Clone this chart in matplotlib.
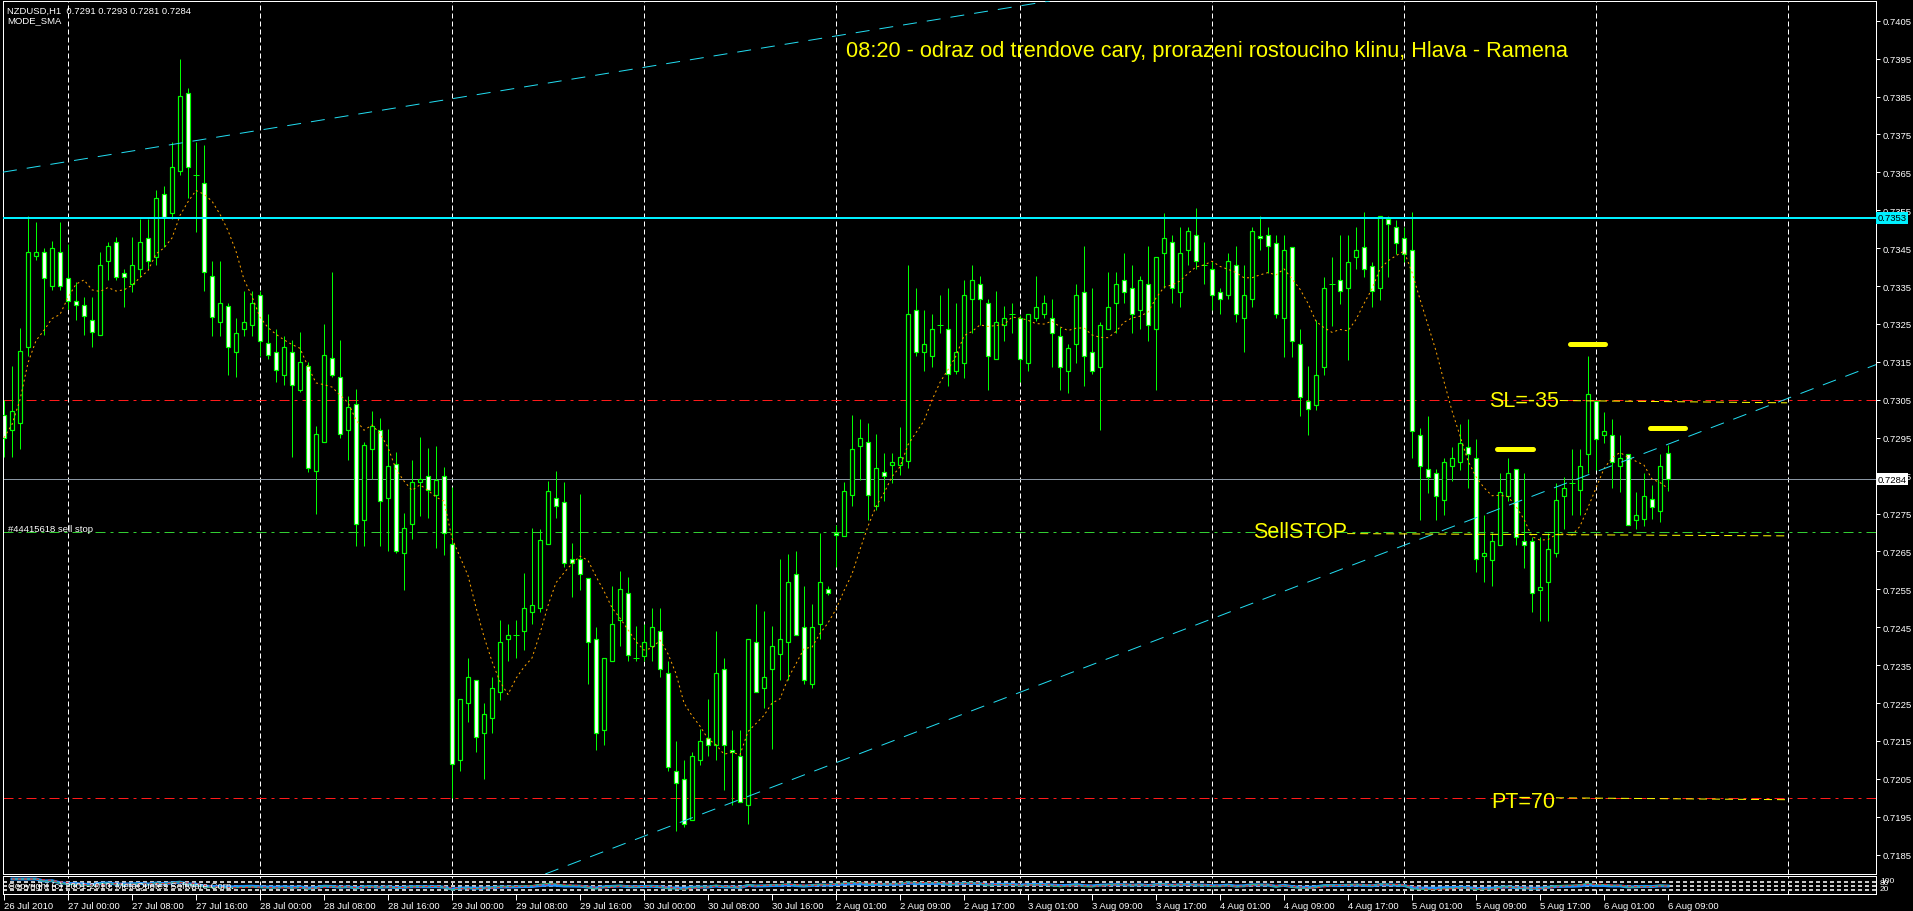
import numpy as np
import pandas as pd
import matplotlib
matplotlib.use("Agg")
import matplotlib.pyplot as plt
from matplotlib.transforms import blended_transform_factory

plt.rcParams['font.family'] = ['Liberation Sans', 'DejaVu Sans']
plt.rcParams['lines.scale_dashes'] = False

# ---------------- data (prices in pips: price * 10000) ----------------
OPEN = [7301, 7297, 7299, 7319, 7343, 7344, 7335, 7344, 7337, 7331,
        7330, 7326, 7322, 7341.5, 7346.5, 7338.5, 7335.5, 7339.5, 7347.6, 7342.6,
        7359.3, 7354.3, 7365.3, 7386, 7364.3, 7362.3, 7337.6, 7325.6, 7329.8, 7317.7,
        7323.8, 7324.7, 7332.6, 7319.9, 7317.7, 7311.6, 7317.7, 7307.7, 7314, 7286.1,
        7293.9, 7316, 7311, 7297.1, 7303.9, 7273.4, 7292, 7297.1, 7279, 7288,
        7264.5, 7272.2, 7283.2, 7285, 7279.9, 7284.9, 7266.9, 7209.9, 7225, 7231,
        7217.1, 7221.1, 7228, 7241.9, 7242.9, 7244.1, 7249.1, 7250.1, 7266.9, 7279,
        7278.1, 7262.9, 7263, 7258, 7241.9, 7217.8, 7236, 7246.9, 7254, 7237,
        7237.5, 7240, 7244, 7232.9, 7207.1, 7205, 7194.1, 7209.9, 7215.9, 7213.9,
        7234, 7212.7, 7211, 7198, 7241.1, 7229, 7234, 7238, 7241, 7259,
        7245, 7229.9, 7245.9, 7255.1, 7269.9, 7269.1, 7280, 7292.9, 7293.8, 7277.1,
        7285.9, 7287.8, 7287.8, 7288.9, 7328.7, 7317.6, 7316.5, 7324.7, 7323.7, 7312.6,
        7314.6, 7331.5, 7335.5, 7330.5, 7315.8, 7324.7, 7327.6, 7326.6, 7314.6, 7326.6,
        7327.6, 7326.6, 7321.7, 7312.6, 7319.6, 7333.5, 7317.6, 7313.7, 7323.7, 7330.5,
        7336.5, 7334.5, 7328.7, 7335.5, 7323.7, 7343.6, 7346.5, 7333.5, 7344.5, 7348.5,
        7340.6, 7339.4, 7333.5, 7332.6, 7340.6, 7326.6, 7331.7, 7348.2, 7348.5, 7346.4,
        7326.5, 7345.4, 7319.7, 7304.6, 7303.7, 7313.6, 7335.5, 7336.5, 7334.4, 7342.6,
        7345.4, 7340.4, 7334.4, 7352.6, 7350.5, 7347.6, 7344.5, 7295.6, 7286.8, 7285.7,
        7278.5, 7287.5, 7288.6, 7292.6, 7289.7, 7263.8, 7262.7, 7266.7, 7279.6, 7286.8,
        7267.7, 7267.7, 7254.8, 7256.8, 7264.7, 7279.6, 7283.1, 7281.3, 7290.7, 7304.6,
        7295.6, 7295.6, 7287.6, 7290.7, 7273.4, 7273.6, 7278.7, 7275.6, 7291]

HIGH = [7305, 7314, 7324, 7353.5, 7352, 7345, 7347, 7352, 7346, 7336,
        7332, 7332, 7344, 7346.5, 7348, 7339.5, 7348, 7352.7, 7352.7, 7360.4,
        7361.4, 7373, 7395, 7387.2, 7373, 7372.2, 7341.5, 7341.5, 7330.6, 7326.6,
        7333.6, 7333.6, 7333.6, 7327.7, 7323.8, 7321.7, 7320.8, 7322.8, 7314.9, 7298.1,
        7324.9, 7338.7, 7320.8, 7306, 7307.9, 7293.9, 7302.1, 7300.2, 7297.2, 7291.1,
        7275.2, 7289, 7295.1, 7292.2, 7292.9, 7287.2, 7282.1, 7226, 7237, 7231,
        7224.9, 7232, 7246.9, 7245.9, 7246.9, 7259.2, 7271.2, 7271, 7283.7, 7286.1,
        7283.2, 7267.1, 7280.1, 7258, 7245, 7237, 7255.8, 7259.9, 7258.2, 7245.4,
        7245.9, 7250.1, 7250.1, 7236, 7215.1, 7210.1, 7212.2, 7218.1, 7226.1, 7244.1,
        7237, 7217.9, 7217.9, 7242, 7251, 7249.2, 7245.3, 7263.1, 7264.2, 7265,
        7256, 7251, 7269.9, 7255.8, 7271.9, 7283.2, 7301.1, 7300, 7298.8, 7296,
        7291, 7291, 7297.8, 7340.6, 7334.5, 7328.7, 7327.6, 7332.7, 7334.5, 7330.5,
        7336.6, 7340.6, 7337.6, 7331.5, 7333.6, 7329.8, 7330.5, 7327.3, 7327.6, 7337.6,
        7332.6, 7331.7, 7324.2, 7319.6, 7335.5, 7345.5, 7334.5, 7325.6, 7338.6, 7338.6,
        7343.6, 7340.6, 7337.6, 7345.5, 7342.6, 7354.4, 7348.5, 7350.6, 7350.6, 7355.5,
        7346.5, 7341.5, 7334.5, 7343.6, 7345.5, 7340.6, 7350.6, 7353.5, 7350.6, 7348.4,
        7348.4, 7345.4, 7323.6, 7313.8, 7326.1, 7337.5, 7342.6, 7348.4, 7348.4, 7350.5,
        7354.5, 7341.4, 7353.4, 7353.4, 7352.4, 7350.5, 7354.5, 7297.6, 7300.6, 7286.8,
        7289.7, 7292.6, 7298.7, 7299.8, 7294.7, 7274.5, 7269.9, 7285.7, 7289.7, 7286.8,
        7285.7, 7268.9, 7268.9, 7269.9, 7283.1, 7284.7, 7291.9, 7291.9, 7316.6, 7304.6,
        7301.9, 7299.8, 7295.6, 7290.7, 7280.6, 7285.7, 7282.6, 7290.7, 7293]

LOW = [7290, 7290, 7292, 7316.5, 7342, 7322, 7334, 7334, 7329, 7326,
       7322, 7319, 7322, 7336.5, 7336.5, 7329.5, 7333.5, 7337.5, 7339.5, 7340.6,
       7345.3, 7352.7, 7364.2, 7358.3, 7349.3, 7333.6, 7321.7, 7321.7, 7311.6, 7310.9,
       7321.7, 7321.7, 7316.5, 7315.8, 7309.8, 7308.8, 7290, 7307, 7286, 7275,
       7293.9, 7310.9, 7295, 7289.2, 7266.4, 7266.4, 7284.1, 7266.4, 7265.2, 7264.5,
       7254.7, 7268.2, 7274.3, 7273.8, 7265.9, 7264, 7200, 7207, 7220, 7212,
       7204.9, 7217.2, 7225.9, 7236, 7237, 7238.9, 7245.9, 7249, 7266.9, 7273.8,
       7261, 7252.9, 7254.9, 7229.9, 7212.7, 7213.9, 7236, 7240, 7236, 7236,
       7236, 7236, 7232, 7207.1, 7191.2, 7192.2, 7194.1, 7208.7, 7211, 7209.9,
       7202, 7198.1, 7199, 7193.1, 7228, 7223.8, 7212.9, 7231, 7231, 7242.9,
       7229.9, 7229, 7242, 7253.4, 7260.8, 7269.1, 7277, 7283.8, 7273.2, 7276,
       7278.2, 7283.1, 7285.2, 7287, 7316.5, 7312.6, 7313.7, 7322.6, 7308.6, 7311.7,
       7310.7, 7322.6, 7324.7, 7307.6, 7315.8, 7320.5, 7322.6, 7309.8, 7312.6, 7325.7,
       7326.6, 7313.7, 7307.6, 7306.7, 7314.6, 7308.6, 7311.7, 7296.9, 7323.7, 7322.6,
       7330.5, 7322.6, 7323.7, 7320.5, 7307.6, 7334.5, 7330.5, 7329.6, 7340.6, 7339.4,
       7335.5, 7328.7, 7327.6, 7331.7, 7325.6, 7317.6, 7329.6, 7344.6, 7338.5, 7326.5,
       7316.4, 7316.4, 7300.6, 7295.6, 7302.4, 7311.5, 7324.5, 7330.3, 7315.5, 7339.5,
       7337.5, 7329.6, 7331.3, 7337.5, 7343.4, 7341.4, 7289.7, 7273.4, 7280.5, 7273.4,
       7274.5, 7283.5, 7286.6, 7281.8, 7259.7, 7256.8, 7255.9, 7266.7, 7278.3, 7266.7,
       7260.7, 7248.9, 7246.7, 7246.7, 7263.6, 7270.8, 7274.5, 7274.5, 7285.7, 7286.6,
       7293.6, 7281.8, 7280.6, 7271.9, 7270.8, 7271.7, 7273.6, 7272.8, 7281]

CLOSE = [7295, 7302, 7318, 7344, 7344, 7337, 7345, 7335, 7331, 7330,
         7327, 7323, 7340.5, 7345.5, 7337.5, 7337.5, 7340.5, 7346.5, 7341.5, 7358.3,
         7353.2, 7366.4, 7385.2, 7366.3, 7364.3, 7338.7, 7326.8, 7330.6, 7318.8, 7322.7,
         7325.6, 7330.6, 7320.5, 7316.7, 7312.8, 7318.8, 7308.8, 7314.9, 7287.1, 7296,
         7316.8, 7311.6, 7296, 7303, 7272.2, 7293, 7298.1, 7278.3, 7287.4, 7265.2,
         7271.3, 7283.3, 7284, 7281.2, 7283.9, 7269.9, 7208.9, 7226, 7231.9, 7216.1,
         7222.1, 7229, 7241.1, 7242.9, 7242.9, 7250.1, 7250.9, 7268, 7281, 7277.1,
         7262, 7262, 7259, 7241, 7217.1, 7237, 7245.8, 7255.1, 7237.8, 7237,
         7241, 7245.1, 7234, 7208.1, 7204, 7193.1, 7211, 7215, 7214, 7232.9,
         7213.9, 7212, 7199, 7242, 7228, 7232, 7240.1, 7241.9, 7257, 7242.9,
         7231, 7245, 7257, 7254, 7269.2, 7281, 7292, 7294.9, 7280, 7287,
         7285, 7288.7, 7289.9, 7327.6, 7317.6, 7319.7, 7323.7, 7324.7, 7311.7, 7317.6,
         7332.6, 7336.5, 7331.5, 7316.5, 7325.6, 7326.6, 7327.6, 7315.8, 7327.6, 7329.6,
         7330.5, 7322.6, 7313.7, 7318.7, 7332.6, 7316.5, 7312.6, 7324.7, 7329.6, 7335.5,
         7333.5, 7327.6, 7336.5, 7324.7, 7342.6, 7347.6, 7334.5, 7343.6, 7349.4, 7341.5,
         7340.6, 7332.6, 7331.7, 7341.5, 7327.6, 7332.6, 7349.4, 7347.6, 7345.5, 7327.6,
         7344.5, 7320.5, 7305.7, 7302.6, 7311.5, 7334.4, 7335.5, 7333.7, 7341.4, 7344.5,
         7339.5, 7333.7, 7353.4, 7351.5, 7346.4, 7343.4, 7296.7, 7287.6, 7284.7, 7279.6,
         7288.6, 7289.7, 7293.6, 7290.7, 7262.9, 7264.7, 7267.7, 7280.6, 7285.7, 7268.9,
         7266.7, 7253.9, 7255.7, 7265.7, 7278.5, 7281.8, 7283.1, 7287.6, 7306.5, 7294.7,
         7296.7, 7288.6, 7289.7, 7271.9, 7274.5, 7279.6, 7276.8, 7287.6, 7284]

TICK_POS = list(range(0, 209, 8))
TICK_LABELS = ["26 Jul 2010", "27 Jul 00:00", "27 Jul 08:00", "27 Jul 16:00",
               "28 Jul 00:00", "28 Jul 08:00", "28 Jul 16:00", "29 Jul 00:00",
               "29 Jul 08:00", "29 Jul 16:00", "30 Jul 00:00", "30 Jul 08:00",
               "30 Jul 16:00", "2 Aug 01:00", "2 Aug 09:00", "2 Aug 17:00",
               "3 Aug 01:00", "3 Aug 09:00", "3 Aug 17:00", "4 Aug 01:00",
               "4 Aug 09:00", "4 Aug 17:00", "5 Aug 01:00", "5 Aug 09:00",
               "5 Aug 17:00", "6 Aug 01:00", "6 Aug 09:00"]
SEPARATORS = [8, 32, 56, 80, 104, 127, 151, 175, 199, 223]
PRICE_TICKS = [0.7185, 0.7195, 0.7205, 0.7215, 0.7225, 0.7235, 0.7245, 0.7255,
               0.7265, 0.7275, 0.7285, 0.7295, 0.7305, 0.7315, 0.7325, 0.7335,
               0.7345, 0.7355, 0.7365, 0.7375, 0.7385, 0.7395, 0.7405]

RESIST_LEVEL = 0.7353
BID_LEVEL = 0.7284
SELL_STOP_LEVEL = 0.7270
STOP_LOSS_LEVEL = 0.7305
TAKE_PROFIT_LEVEL = 0.7200

UPPER_TL = [(0, 0.73651), (120, 0.74065)]
LOWER_TL = [(84, 0.71931), (186, 0.72755)]

HS_X0 = [186.6, 195.75, 205.75]
HS_X1 = [191.1, 200.1, 210.1]
HS_Y = [0.72919, 0.73196, 0.72975]

SL_LINE = ([194.5, 222.9], [0.73048, 0.73042])
SS_LINE = ([167.9, 222.9], [0.72697, 0.72691])
PT_LINE = ([194.0, 222.9], [0.72000, 0.71995])

TITLE = "08:20 - odraz od trendove cary, prorazeni rostouciho klinu, Hlava - Ramena"

# ---------------- figure ----------------
W, H = 1913, 912
P = 0.72  # points per pixel at dpi 100
fig = plt.figure(figsize=(W / 100, H / 100), dpi=100, facecolor='black')


def fx(px):
    return px / W


def fy(py):
    return 1 - py / H


ax = fig.add_axes([fx(3), fy(875), fx(1876) - fx(3), fy(2) - fy(875)])
ax_ind = fig.add_axes([fx(3), fy(895), fx(1876) - fx(3), fy(877) - fy(895)])
for a in (ax, ax_ind):
    a.set_facecolor('black')
    for s in a.spines.values():
        s.set_color('white')
        s.set_linewidth(1 * P)

ax.set_xlim(-0.125, 234.0)
ax.set_ylim(0.71799, 0.74102)
ax_ind.set_xlim(-0.125, 234.0)
ax_ind.set_ylim(-8.7, 121.7)

LIME = '#00ff00'
o = np.array(OPEN) / 1e4
h = np.array(HIGH) / 1e4
l = np.array(LOW) / 1e4
c = np.array(CLOSE) / 1e4
x = np.arange(len(o))

# separators
for s in SEPARATORS:
    for a in (ax, ax_ind):
        a.axvline(s, color='white', lw=1 * P, dashes=(5 * P, 3 * P), zorder=1)

# horizontal levels
dd = (10 * P, 5 * P, 3 * P, 5 * P)
ax.axhline(STOP_LOSS_LEVEL, color='#ff1a1a', lw=1 * P, dashes=dd, zorder=2)
ax.axhline(TAKE_PROFIT_LEVEL, color='#ff1a1a', lw=1 * P, dashes=dd, zorder=2)
ax.axhline(SELL_STOP_LEVEL, color='#32cd32', lw=1 * P, dashes=dd, zorder=2)
ax.axhline(BID_LEVEL, color='#8a96a3', lw=1 * P, zorder=2)

# candles
ax.vlines(x, l, h, color=LIME, lw=1 * P, zorder=3)
bull = c > o
bear = c < o
doji = c == o
ax.bar(x[bull], (c - o)[bull], bottom=o[bull], width=0.5, color='black',
       edgecolor=LIME, linewidth=1.2 * P, zorder=4)
ax.bar(x[bear], (o - c)[bear], bottom=c[bear], width=0.5, color='white',
       edgecolor=LIME, linewidth=1.2 * P, zorder=4)
ax.hlines(o[doji], x[doji] - 0.35, x[doji] + 0.35, color=LIME, lw=1 * P, zorder=4)

# moving average (SMA 8 of closes)
ma = pd.Series(c).rolling(8, min_periods=1).mean()
ax.plot(x, ma, color='#ffa500', lw=1 * P, dashes=(2 * P, 3 * P), zorder=5)

# resistance line
ax.axhline(RESIST_LEVEL, color='#00f0ff', lw=2 * P, zorder=6)

# trend lines
for tl in (UPPER_TL, LOWER_TL):
    ax.axline(tl[0], tl[1], color='#22dcf0', lw=1 * P, dashes=(14 * P, 10 * P), zorder=6)

# yellow annotation lines
for xs, ys in (SL_LINE, SS_LINE, PT_LINE):
    ax.plot(xs, ys, color='#ffff00', lw=1 * P, dashes=(8 * P, 5 * P), zorder=6)
ax.hlines(HS_Y, HS_X0, HS_X1, color='#ffff00', lw=5 * P, capstyle='round', zorder=7)

YEL = dict(color='#ffff00', fontsize=15.5, va='baseline', ha='left', zorder=8)
ax.text(105.25, 0.73957, TITLE, color='#ffff00', fontsize=15.7, va='baseline',
        ha='left', zorder=8)
ax.text(185.6, 0.73034, "SL=-35", **YEL)
ax.text(156.1, 0.72688, "SellSTOP", **YEL)
ax.text(185.9, 0.71976, "PT=70", **YEL)
ax.text(0.5, 0.72704, "#44415618 sell stop", color='white', fontsize=6.8,
        va='baseline', ha='left', zorder=8)

# header
fig.text(fx(7), fy(11), "NZDUSD,H1  0.7291 0.7293 0.7281 0.7284", color='white',
         fontsize=6.8, va='center', ha='left')
fig.text(fx(7), fy(21), "MODE_SMA", color='white', fontsize=6.8, va='center', ha='left')

# right price axis
ax.set_xticks([])
ax.set_yticks(PRICE_TICKS)
ax.set_yticklabels([f"{v:.4f}" for v in PRICE_TICKS])
ax.yaxis.tick_right()
ax.tick_params(axis='y', colors='white', length=3, width=1 * P, labelsize=6.8, pad=2)

tr = blended_transform_factory(ax.transAxes, ax.transData)
ax.text(1.0009, RESIST_LEVEL, f"{RESIST_LEVEL:.4f}", transform=tr, color='black',
        fontsize=6.8, va='center', ha='left', zorder=10, clip_on=False,
        bbox=dict(boxstyle='square,pad=0.15', facecolor='#00f0ff', edgecolor='none'))
ax.text(1.0009, BID_LEVEL, f"{BID_LEVEL:.4f}", transform=tr, color='black',
        fontsize=6.8, va='center', ha='left', zorder=10, clip_on=False,
        bbox=dict(boxstyle='square,pad=0.15', facecolor='white', edgecolor='none'))

# indicator panel (derived from the closes)
cs = pd.Series(c)
delta = cs.diff()
gain = delta.clip(lower=0)
loss = -delta.clip(upper=0)
rsi_slow = 100 - 100 / (1 + gain.ewm(alpha=1 / 14).mean() / loss.ewm(alpha=1 / 14).mean())
rsi_fast = 100 - 100 / (1 + gain.ewm(alpha=1 / 8).mean() / loss.ewm(alpha=1 / 8).mean())
for lev in (20, 50, 80):
    ax_ind.axhline(lev, color='#c8c8c8', lw=2 * P, dashes=(4 * P, 3 * P), zorder=1)
ax_ind.plot(x, rsi_slow, color='#1e90ff', lw=3 * P, zorder=3)
ax_ind.plot(x, rsi_fast, color='#3cb371', lw=1 * P, zorder=4)
ax_ind.plot(x, rsi_fast.rolling(3, min_periods=1).mean(), color='#ff2020', lw=1 * P,
            dashes=(3 * P, 3 * P), zorder=4)
ax_ind.text(0.5, 50, "Copyright (c) 2001-2010, MetaQuotes Software Corp.", color='white',
            fontsize=6.8, va='center', ha='left', zorder=6)
ax_ind.set_yticks([])
ax_ind.set_xticks(TICK_POS)
ax_ind.set_xticklabels(TICK_LABELS)
for lab in ax_ind.get_xticklabels():
    lab.set_horizontalalignment('left')
ax_ind.tick_params(axis='x', colors='white', length=4, width=1 * P, labelsize=6.8, pad=1)
fig.text(fx(1880), fy(882), "100", color='white', fontsize=6, va='center', ha='left')
fig.text(fx(1880), fy(884), "80", color='white', fontsize=6, va='center', ha='left')
fig.text(fx(1880), fy(890), "20", color='white', fontsize=6, va='center', ha='left')

fig.savefig("out.png", dpi=100, facecolor='black')
